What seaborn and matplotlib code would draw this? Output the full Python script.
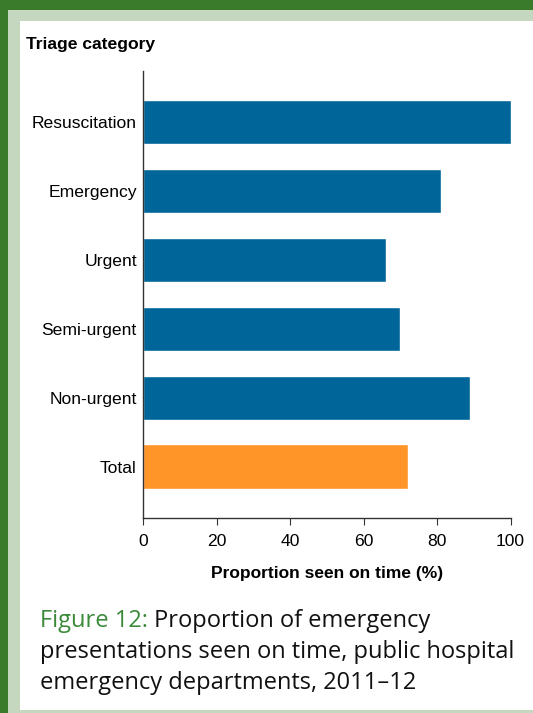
import numpy as np
import pandas as pd
import matplotlib
matplotlib.use("Agg")
import matplotlib.pyplot as plt
import seaborn as sns
from matplotlib.patches import Rectangle

# values
categories = ["Resuscitation", "Emergency", "Urgent", "Semi-urgent", "Non-urgent", "Total"]
seen_on_time = [100, 81, 66, 70, 89, 72]
bar_colours = ["#00669a", "#00669a", "#00669a", "#00669a", "#00669a", "#ff9529"]
x_ticks = [0, 20, 40, 60, 80, 100]

sns.set_style("white")
plt.rcParams['font.family'] = ['Liberation Sans', 'DejaVu Sans']
plt.rcParams['text.color'] = 'black'

W, H = 533, 713
fig = plt.figure(figsize=(W / 100, H / 100), dpi=100, facecolor="white")


def strip(x0, y0, w, h, colour, z=-1):
    # pixel box measured from the top-left corner
    fig.patches.append(Rectangle((x0 / W, 1 - (y0 + h) / H), w / W, h / H,
                                 transform=fig.transFigure, facecolor=colour,
                                 edgecolor="none", zorder=z))


# green frame: dark top/left, pale inner strip, bottom pale line, open on the right
strip(0, 0, W, 10, "#3a7a2b")
strip(0, 0, 8, H, "#3a7a2b")
strip(8, 10, W - 8, 11, "#c5d8bf")
strip(8, 10, 12, H - 10, "#c5d8bf")
strip(8, H - 3, W - 8, 3, "#c5d8bf")
strip(W - 14, 21, 14, H - 24, "white", z=-0.5)

ax = fig.add_axes([143 / W, 1 - 517.5 / H, (510.5 - 143) / W, (517.5 - 71) / H])
ax.patch.set_alpha(0)

df = pd.DataFrame({"category": categories, "value": seen_on_time})
sns.barplot(data=df, x="value", y="category", hue="category", palette=bar_colours,
            legend=False, width=0.64, orient="h", saturation=1, ax=ax)

ax.set_xlim(0, 100)
ax.set_ylim(5.74, -0.74)
ax.set_xticks(x_ticks)
ax.set_xticklabels([str(t) for t in x_ticks])
sns.despine(ax=ax)
for s in ["left", "bottom"]:
    ax.spines[s].set_color("#333333")
    ax.spines[s].set_linewidth(1.0)
ax.tick_params(axis="x", bottom=True, length=5, width=0.8, color="#333333",
               labelsize=12.6, pad=7, labelcolor="black")
ax.tick_params(axis="y", left=False, length=0, labelsize=12.6, pad=4.5, labelcolor="black")
ax.set_ylabel("")
ax.set_xlabel("Proportion seen on time (%)", fontsize=12.5, fontweight="bold",
              labelpad=12, color="black")

fig.text(26 / W, 1 - 44 / H, "Triage category", fontsize=12.6, fontweight="bold",
         va="center", ha="left", color="black")

# caption with green figure number
cap_font = ['Open Sans', 'DejaVu Sans']
cap_size = 17.0
lead = fig.text(40 / W, 1 - 627 / H, "Figure 12:", fontsize=cap_size, color="#3b8a3a",
                family=cap_font, va="baseline", ha="left")
ax.annotate(" Proportion of emergency", xy=(1, 0), xycoords=lead, va="bottom",
            ha="left", fontsize=cap_size, family=cap_font, color="#111111")
fig.text(40 / W, 1 - 658 / H, "presentations seen on time, public hospital",
         fontsize=cap_size, family=cap_font, color="#111111", va="baseline")
fig.text(40 / W, 1 - 689 / H, "emergency departments, 2011\u201312",
         fontsize=cap_size, family=cap_font, color="#111111", va="baseline")

fig.savefig("out.png", dpi=100)
